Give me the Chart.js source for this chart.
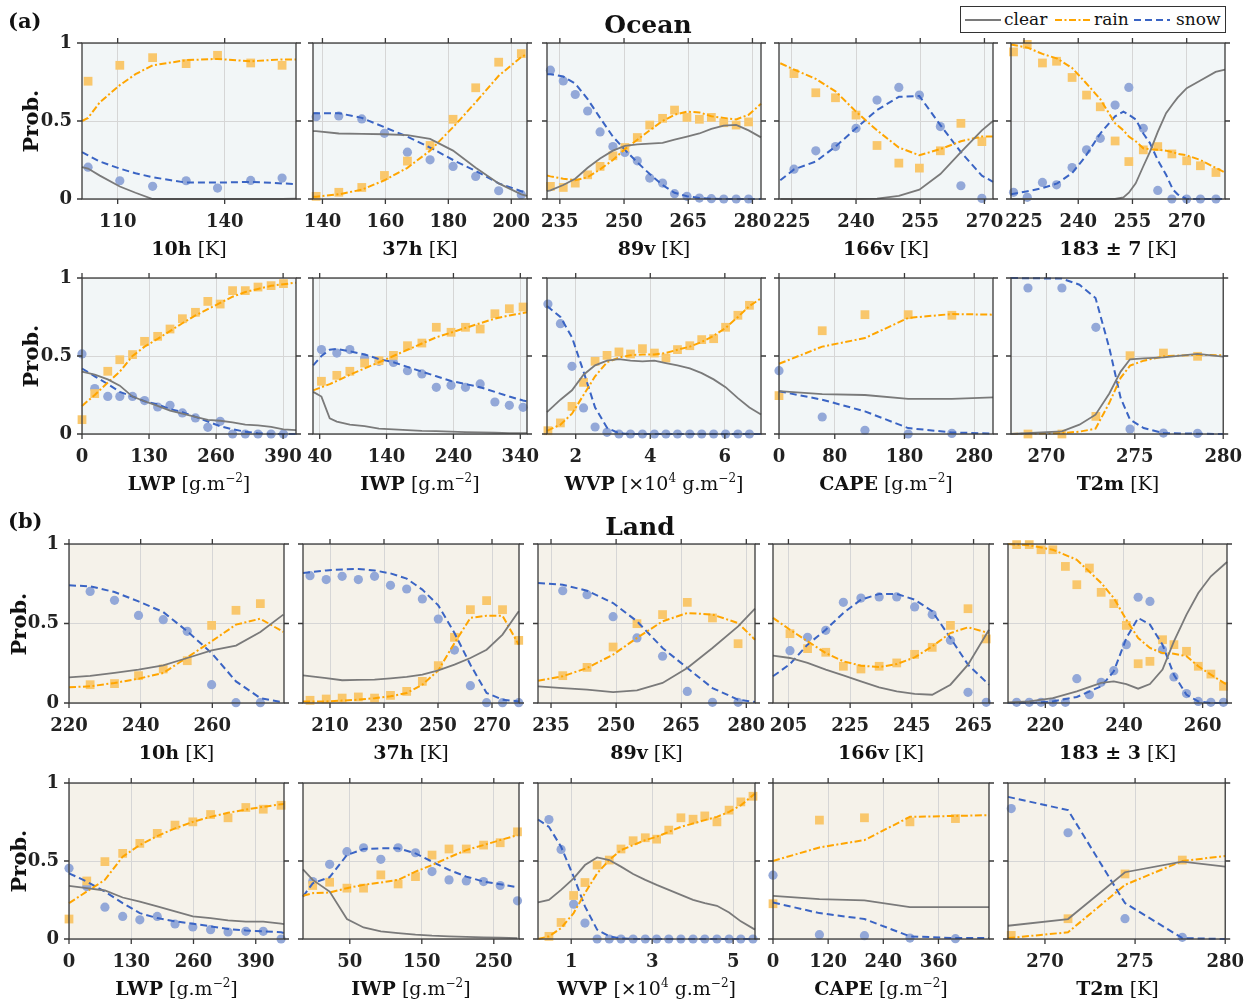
<!DOCTYPE html>
<html>
<head>
<meta charset="utf-8">
<script src="https://cdn.jsdelivr.net/npm/chart.js@4.4.1/dist/chart.umd.min.js"></script>
<style>
  body { margin: 0; width: 1255px; height: 1006px; position: relative; overflow: hidden; background: #fff;
         font-family: "DejaVu Serif", serif; color: #111; }
  canvas { position: absolute; }
  .xt { position: absolute; text-align: center; font-size: 19px; line-height: 26px; height: 26px; white-space: nowrap; }
  .xt sup { font-size: 12px; line-height: 0; vertical-align: 8px; }
  .yl { position: absolute; font-weight: bold; font-size: 21px; white-space: nowrap;
        transform: translate(-50%, -50%) rotate(-90deg); }
  .hd { position: absolute; font-weight: bold; transform: translate(-50%, -50%); white-space: nowrap; }
  .tag { position: absolute; font-weight: bold; font-size: 21px; transform: translateY(-50%); }
  #legend { position: absolute; left: 960px; top: 6px; width: 264px; height: 25px; border: 1.3px solid #333; background: #fff; }
  #legend span { position: absolute; top: 0; line-height: 25px; font-size: 17px; }
</style>
</head>
<body>
<script>
/* ---------- Ocean, row 1 ---------- */
const o10h_lim = [100, 160], o10h_ticks = [110, 140];
const o10h_lx = [100, 101.7, 105, 110.6, 115, 119.8, 125, 129.2, 138, 147.3, 156.1, 160];
const o10h_clear = [0.205, 0.195, 0.15, 0.08, 0.04, 0, 0, 0, 0, 0, 0, 0.003];
const o10h_rain = [0.5, 0.52, 0.62, 0.73, 0.8, 0.857, 0.875, 0.89, 0.898, 0.883, 0.895, 0.895];
const o10h_snow = [0.3, 0.28, 0.24, 0.195, 0.165, 0.14, 0.12, 0.105, 0.105, 0.11, 0.1, 0.095];
const o10h_px = [101.7, 110.6, 119.8, 129.2, 138, 147.3, 156.1];
const o10h_prain = [0.755, 0.857, 0.906, 0.868, 0.921, 0.872, 0.857];
const o10h_psnow = [0.204, 0.117, 0.081, 0.117, 0.07, 0.119, 0.134];

const o37h_lim = [137, 205], o37h_ticks = [140, 160, 180, 200];
const o37h_lx = [137, 138, 145.2, 152.5, 159.7, 167, 174.2, 181.5, 188.7, 196, 203.2, 205];
const o37h_clear = [0.435, 0.435, 0.42, 0.418, 0.415, 0.41, 0.385, 0.31, 0.2, 0.1, 0.03, 0.02];
const o37h_rain = [0.015, 0.015, 0.03, 0.06, 0.12, 0.2, 0.31, 0.46, 0.62, 0.79, 0.91, 0.93];
const o37h_snow = [0.55, 0.55, 0.55, 0.52, 0.46, 0.4, 0.33, 0.25, 0.18, 0.1, 0.05, 0.04];
const o37h_px = [138, 145.2, 152.5, 159.7, 167, 174.2, 181.5, 188.7, 196, 203.2];
const o37h_prain = [0.017, 0.043, 0.074, 0.151, 0.243, 0.343, 0.511, 0.713, 0.877, 0.932];
const o37h_psnow = [0.528, 0.532, 0.513, 0.421, 0.3, 0.251, 0.209, 0.145, 0.053, 0.028];

const o89v_lim = [232, 282], o89v_ticks = [235, 250, 265, 280];
const o89v_lx = [232, 232.8, 235.8, 238.6, 241.5, 244.4, 247.4, 250.2, 253.1, 256, 259, 261.8, 264.7, 267.6, 270.4, 273.3, 276.2, 279.1, 282];
const o89v_clear = [0.05, 0.055, 0.09, 0.13, 0.2, 0.26, 0.31, 0.34, 0.35, 0.355, 0.36, 0.38, 0.4, 0.42, 0.45, 0.47, 0.475, 0.44, 0.395];
const o89v_rain = [0.15, 0.145, 0.13, 0.12, 0.14, 0.19, 0.25, 0.32, 0.38, 0.44, 0.5, 0.54, 0.56, 0.555, 0.53, 0.52, 0.51, 0.54, 0.61];
const o89v_snow = [0.8, 0.8, 0.785, 0.74, 0.64, 0.52, 0.4, 0.315, 0.235, 0.16, 0.09, 0.04, 0.018, 0.007, 0.002, 0, 0, 0, 0];
const o89v_px = [232.8, 235.8, 238.6, 241.5, 244.4, 247.4, 250.2, 253.1, 256, 259, 261.8, 264.7, 267.6, 270.4, 273.3, 276.2, 279.1];
const o89v_prain = [0.081, 0.074, 0.102, 0.155, 0.209, 0.277, 0.33, 0.394, 0.474, 0.517, 0.57, 0.523, 0.511, 0.523, 0.489, 0.474, 0.494];
const o89v_psnow = [0.826, 0.757, 0.67, 0.564, 0.43, 0.336, 0.298, 0.245, 0.134, 0.102, 0.034, 0.017, 0.006, 0.002, 0, 0, 0];

const o166_lim = [222, 272], o166_ticks = [225, 240, 255, 270];
const o166_lx = [222.3, 225.5, 230.6, 235.2, 240, 244.9, 250, 254.8, 259.7, 264.5, 269.4, 272];
const o166_clear = [0, 0, 0, 0, 0, 0.002, 0.02, 0.06, 0.16, 0.3, 0.44, 0.5];
const o166_rain = [0.87, 0.83, 0.77, 0.69, 0.56, 0.44, 0.33, 0.28, 0.32, 0.37, 0.4, 0.4];
const o166_snow = [0.12, 0.19, 0.24, 0.336, 0.453, 0.57, 0.655, 0.66, 0.474, 0.3, 0.15, 0.11];
const o166_px = [225.5, 230.6, 235.2, 240, 244.9, 250, 254.8, 259.7, 264.5, 269.4];
const o166_prain = [0.804, 0.681, 0.649, 0.538, 0.343, 0.23, 0.198, 0.309, 0.485, 0.368];
const o166_psnow = [0.191, 0.309, 0.336, 0.453, 0.634, 0.715, 0.666, 0.464, 0.085, 0.004];

const o183_lim = [221.4, 280.6], o183_ticks = [225, 240, 255, 270];
const o183_lx = [221.4, 226, 230.1, 234.2, 238.3, 241.9, 246.1, 250.2, 252.5, 254, 255.9, 258, 259.8, 262, 264.3, 266.2, 267.5, 270, 273.8, 278, 280.6];
const o183_clear = [0, 0, 0, 0, 0, 0, 0, 0, 0.01, 0.04, 0.1, 0.21, 0.3, 0.43, 0.55, 0.61, 0.65, 0.71, 0.76, 0.815, 0.83];
const o183_rain = [0.99, 0.97, 0.93, 0.9, 0.84, 0.75, 0.64, 0.485, 0.44, 0.4, 0.37, 0.325, 0.32, 0.315, 0.31, 0.3, 0.29, 0.28, 0.25, 0.2, 0.17];
const o183_snow = [0.03, 0.05, 0.07, 0.1, 0.166, 0.27, 0.42, 0.53, 0.56, 0.54, 0.51, 0.42, 0.36, 0.25, 0.155, 0.06, 0.03, 0, 0, 0, 0];
const o183_px = [222.1, 225.9, 230.1, 234, 238.3, 242.3, 246.1, 250.2, 254, 258, 262, 265.9, 270, 273.8, 278.1];
const o183_prain = [0.943, 0.991, 0.872, 0.883, 0.779, 0.666, 0.591, 0.372, 0.24, 0.315, 0.336, 0.289, 0.245, 0.213, 0.17];
const o183_psnow = [0.043, 0.011, 0.106, 0.091, 0.202, 0.315, 0.389, 0.602, 0.715, 0.453, 0.055, 0, 0, 0, 0];

/* ---------- Ocean, row 2 ---------- */
const oLWP_lim = [0, 415], oLWP_ticks = [0, 130, 260, 390];
const oLWP_lx = [0, 24.7, 50, 73.3, 98, 121.3, 146.7, 170.7, 194.7, 220, 244, 268, 292, 316.7, 341.3, 366.7, 390.7, 415];
const oLWP_clear = [0.4, 0.38, 0.35, 0.31, 0.24, 0.21, 0.18, 0.15, 0.13, 0.11, 0.09, 0.085, 0.075, 0.06, 0.055, 0.045, 0.03, 0.025];
const oLWP_rain = [0.18, 0.25, 0.33, 0.4, 0.5, 0.56, 0.61, 0.66, 0.71, 0.76, 0.8, 0.84, 0.88, 0.91, 0.93, 0.95, 0.96, 0.97];
const oLWP_snow = [0.42, 0.37, 0.32, 0.27, 0.24, 0.21, 0.19, 0.16, 0.14, 0.11, 0.08, 0.05, 0.03, 0.015, 0.005, 0, 0, 0];
const oLWP_px = [0, 24.7, 50, 73.3, 98, 121.3, 146.7, 170.7, 194.7, 220, 244, 268, 292, 316.7, 341.3, 366.7, 390.7];
const oLWP_prain = [0.092, 0.259, 0.402, 0.476, 0.509, 0.594, 0.626, 0.673, 0.739, 0.78, 0.85, 0.833, 0.919, 0.919, 0.942, 0.951, 0.964];
const oLWP_psnow = [0.513, 0.291, 0.241, 0.241, 0.241, 0.214, 0.173, 0.184, 0.135, 0.103, 0.043, 0.081, 0, 0, 0, 0, 0];

const oIWP_lim = [30, 350], oIWP_ticks = [40, 140, 240, 340];
const oIWP_lx = [30.3, 42.6, 55, 65.6, 85.1, 107.2, 128.7, 150.3, 171.3, 192.8, 214.4, 236.4, 258, 280, 302, 323.6, 344.1, 350];
const oIWP_clear = [0.27, 0.24, 0.1, 0.08, 0.06, 0.05, 0.035, 0.03, 0.025, 0.02, 0.018, 0.015, 0.012, 0.01, 0.008, 0.006, 0.005, 0.005];
const oIWP_rain = [0.28, 0.3, 0.32, 0.34, 0.38, 0.42, 0.46, 0.5, 0.54, 0.58, 0.62, 0.65, 0.68, 0.71, 0.74, 0.76, 0.775, 0.78];
const oIWP_snow = [0.44, 0.5, 0.54, 0.545, 0.53, 0.51, 0.48, 0.46, 0.43, 0.4, 0.37, 0.34, 0.32, 0.3, 0.27, 0.24, 0.215, 0.21];
const oIWP_px = [42.6, 65.6, 85.1, 107.2, 128.7, 150.3, 171.3, 192.8, 214.4, 236.4, 258, 280, 302, 323.6, 344.1];
const oIWP_prain = [0.338, 0.376, 0.402, 0.455, 0.47, 0.504, 0.566, 0.583, 0.684, 0.652, 0.684, 0.673, 0.771, 0.803, 0.814];
const oIWP_psnow = [0.541, 0.519, 0.541, 0.487, 0.466, 0.459, 0.406, 0.385, 0.299, 0.312, 0.299, 0.321, 0.205, 0.184, 0.171];

const oWVP_lim = [1.23, 6.97], oWVP_ticks = [2, 4, 6];
const oWVP_lx = [1.23, 1.59, 1.9, 2.21, 2.52, 2.84, 3.16, 3.47, 3.79, 4.11, 4.42, 4.73, 5.06, 5.38, 5.7, 6.02, 6.35, 6.66, 6.97];
const oWVP_clear = [0.14, 0.22, 0.28, 0.38, 0.44, 0.47, 0.48, 0.47, 0.465, 0.47, 0.455, 0.44, 0.42, 0.39, 0.35, 0.3, 0.23, 0.17, 0.125];
const oWVP_rain = [0.02, 0.06, 0.13, 0.25, 0.37, 0.46, 0.49, 0.505, 0.51, 0.51, 0.52, 0.54, 0.56, 0.59, 0.63, 0.68, 0.75, 0.82, 0.87];
const oWVP_snow = [0.82, 0.75, 0.62, 0.4, 0.17, 0.04, 0.005, 0, 0, 0, 0, 0, 0, 0, 0, 0, 0, 0, 0];
const oWVP_px = [1.255, 1.59, 1.9, 2.21, 2.52, 2.84, 3.16, 3.47, 3.79, 4.11, 4.42, 4.73, 5.06, 5.38, 5.7, 6.02, 6.35, 6.66];
const oWVP_prain = [0.021, 0.071, 0.177, 0.331, 0.466, 0.504, 0.526, 0.513, 0.547, 0.519, 0.487, 0.541, 0.566, 0.605, 0.611, 0.684, 0.761, 0.825];
const oWVP_psnow = [0.833, 0.707, 0.434, 0.167, 0.045, 0.011, 0, 0, 0, 0, 0, 0, 0, 0, 0, 0, 0, 0];

const oCAPE_lim = [0, 307], oCAPE_ticks = [0, 80, 180, 280];
const oCAPE_lx = [0, 62, 123.3, 185.3, 248, 307];
const oCAPE_clear = [0.275, 0.255, 0.25, 0.225, 0.225, 0.235];
const oCAPE_rain = [0.45, 0.56, 0.615, 0.744, 0.769, 0.765];
const oCAPE_snow = [0.274, 0.22, 0.145, 0.038, 0.01, 0.003];
const oCAPE_px = [0, 62, 123.3, 185.3, 248];
const oCAPE_prain = [0.246, 0.662, 0.765, 0.765, 0.761];
const oCAPE_psnow = [0.406, 0.109, 0.024, 0, 0.004];

const oT2m_lim = [268, 280], oT2m_ticks = [270, 275, 280];
const oT2m_lx = [268, 270.88, 271.87, 272.78, 273.56, 274.2, 274.73, 275.5, 276.62, 278.55, 280];
const oT2m_clear = [0, 0.017, 0.06, 0.124, 0.26, 0.4, 0.479, 0.485, 0.491, 0.513, 0.496];
const oT2m_rain = [0, 0.006, 0.015, 0.034, 0.2, 0.36, 0.438, 0.47, 0.498, 0.508, 0.504];
const oT2m_snow = [1, 0.996, 0.957, 0.872, 0.551, 0.231, 0.092, 0.038, 0.006, 0.002, 0];
const oT2m_px = [268.96, 270.88, 272.8, 274.73, 276.62, 278.55];
const oT2m_prain = [0, 0, 0.113, 0.502, 0.519, 0.498];
const oT2m_psnow = [0.936, 0.936, 0.684, 0.032, 0.006, 0.004];

/* ---------- Land, row 1 ---------- */
const l10h_lim = [220, 280], l10h_ticks = [220, 240, 260];
const l10h_lx = [220, 225.9, 232.7, 239.4, 246.3, 253, 259.8, 266.6, 273.4, 279.8];
const l10h_clear = [0.161, 0.17, 0.189, 0.21, 0.237, 0.283, 0.331, 0.361, 0.447, 0.556];
const l10h_rain = [0.099, 0.105, 0.126, 0.153, 0.189, 0.287, 0.388, 0.493, 0.53, 0.447];
const l10h_snow = [0.74, 0.734, 0.698, 0.639, 0.572, 0.451, 0.314, 0.136, 0.031, 0.004];
const l10h_px = [225.9, 232.7, 239.4, 246.3, 253, 259.8, 266.6, 273.4];
const l10h_prain = [0.115, 0.122, 0.172, 0.214, 0.266, 0.488, 0.583, 0.625];
const l10h_psnow = [0.702, 0.646, 0.551, 0.524, 0.451, 0.115, 0.002, 0.002];

const l37h_lim = [200, 280], l37h_ticks = [210, 230, 250, 270];
const l37h_lx = [200, 208.6, 214.5, 220.5, 226.5, 232.4, 238.4, 244.2, 250.1, 256.1, 262, 268, 273.9, 279.9];
const l37h_clear = [0.174, 0.157, 0.143, 0.145, 0.147, 0.155, 0.164, 0.178, 0.205, 0.241, 0.283, 0.335, 0.43, 0.577];
const l37h_rain = [0.01, 0.01, 0.015, 0.021, 0.03, 0.042, 0.063, 0.115, 0.205, 0.377, 0.535, 0.549, 0.549, 0.367];
const l37h_snow = [0.818, 0.834, 0.84, 0.843, 0.834, 0.815, 0.782, 0.713, 0.614, 0.44, 0.241, 0.063, 0.021, 0.01];
const l37h_px = [202.6, 208.6, 214.5, 220.5, 226.5, 232.4, 238.4, 244.2, 250.1, 256.1, 262, 268, 273.9, 279.9];
const l37h_prain = [0.017, 0.025, 0.031, 0.038, 0.031, 0.048, 0.073, 0.136, 0.235, 0.413, 0.587, 0.644, 0.587, 0.394];
const l37h_psnow = [0.801, 0.776, 0.797, 0.776, 0.797, 0.74, 0.717, 0.654, 0.528, 0.333, 0.109, 0.002, 0.002, 0.002];

const l89v_lim = [232, 282], l89v_ticks = [235, 250, 265, 280];
const l89v_lx = [232, 237.7, 243.3, 249.3, 254.8, 260.7, 266.4, 272.2, 278.1, 282];
const l89v_clear = [0.105, 0.094, 0.084, 0.069, 0.08, 0.126, 0.22, 0.346, 0.482, 0.593];
const l89v_rain = [0.14, 0.168, 0.22, 0.304, 0.409, 0.514, 0.566, 0.556, 0.503, 0.398];
const l89v_snow = [0.755, 0.744, 0.706, 0.629, 0.514, 0.346, 0.22, 0.094, 0.021, 0.006];
const l89v_px = [237.7, 243.3, 249.3, 254.8, 260.7, 266.4, 272.2, 278.1];
const l89v_prain = [0.172, 0.224, 0.352, 0.499, 0.556, 0.633, 0.535, 0.373];
const l89v_psnow = [0.706, 0.681, 0.543, 0.409, 0.294, 0.073, 0.004, 0.004];

const l166_lim = [200, 270], l166_ticks = [205, 225, 245, 265];
const l166_lx = [200, 205.5, 211.2, 217.1, 222.8, 228.5, 234.4, 240.1, 245.9, 251.6, 257.5, 263.2, 270];
const l166_clear = [0.298, 0.283, 0.252, 0.21, 0.174, 0.136, 0.099, 0.073, 0.057, 0.052, 0.115, 0.241, 0.461];
const l166_rain = [0.535, 0.461, 0.388, 0.314, 0.262, 0.235, 0.226, 0.245, 0.287, 0.356, 0.44, 0.476, 0.44];
const l166_snow = [0.168, 0.245, 0.367, 0.461, 0.566, 0.65, 0.686, 0.686, 0.65, 0.577, 0.409, 0.241, 0.115];
const l166_px = [205.5, 211.2, 217.1, 222.8, 228.5, 234.4, 240.1, 245.9, 251.6, 257.5, 263.2, 269.1];
const l166_prain = [0.436, 0.342, 0.319, 0.231, 0.214, 0.231, 0.252, 0.306, 0.35, 0.488, 0.593, 0.403];
const l166_psnow = [0.329, 0.413, 0.457, 0.633, 0.66, 0.667, 0.667, 0.604, 0.556, 0.394, 0.067, 0.004];

const l183_lim = [210.5, 266.2], l183_ticks = [220, 240, 260];
const l183_lx = [210.5, 215.9, 221.9, 228, 234.2, 237.4, 240.6, 243.6, 246.6, 249.8, 252.7, 255.9, 258.9, 262.1, 266.2];
const l183_clear = [0.004, 0.01, 0.031, 0.073, 0.126, 0.136, 0.119, 0.09, 0.119, 0.21, 0.388, 0.556, 0.692, 0.797, 0.887];
const l183_rain = [1, 0.992, 0.964, 0.901, 0.755, 0.66, 0.524, 0.409, 0.346, 0.314, 0.31, 0.294, 0.231, 0.178, 0.115];
const l183_snow = [0, 0, 0.01, 0.038, 0.105, 0.199, 0.409, 0.535, 0.493, 0.367, 0.178, 0.052, 0.01, 0, 0];
const l183_px = [212.7, 215.9, 218.9, 221.9, 225.1, 228, 231.2, 234.2, 237.4, 240.6, 243.6, 246.6, 249.8, 252.7, 255.9, 258.9, 262.1, 265.3];
const l183_prain = [0.996, 0.996, 0.964, 0.964, 0.859, 0.744, 0.849, 0.696, 0.625, 0.488, 0.247, 0.262, 0.398, 0.367, 0.325, 0.231, 0.182, 0.105];
const l183_psnow = [0.004, 0.004, 0.004, 0.004, 0.004, 0.153, 0.052, 0.13, 0.203, 0.367, 0.665, 0.639, 0.335, 0.164, 0.059, 0.01, 0.004, 0.004];

/* ---------- Land, row 2 ---------- */
const lLWP_lim = [0, 449], lLWP_ticks = [0, 130, 260, 390];
const lLWP_lx = [0, 37.1, 75, 112.1, 147.9, 184.3, 221.4, 258.6, 295.7, 332.1, 369.3, 405.7, 442.9, 449];
const lLWP_clear = [0.34, 0.326, 0.311, 0.266, 0.24, 0.209, 0.177, 0.145, 0.134, 0.119, 0.111, 0.111, 0.098, 0.096];
const lLWP_rain = [0.23, 0.304, 0.379, 0.528, 0.602, 0.66, 0.709, 0.751, 0.783, 0.809, 0.83, 0.847, 0.864, 0.866];
const lLWP_snow = [0.421, 0.368, 0.304, 0.23, 0.166, 0.134, 0.113, 0.098, 0.081, 0.064, 0.055, 0.049, 0.043, 0.038];
const lLWP_px = [0, 37.1, 75, 112.1, 147.9, 184.3, 221.4, 258.6, 295.7, 332.1, 369.3, 405.7, 442.9];
const lLWP_prain = [0.128, 0.372, 0.496, 0.549, 0.613, 0.677, 0.73, 0.751, 0.798, 0.777, 0.843, 0.832, 0.857];
const lLWP_psnow = [0.453, 0.336, 0.204, 0.145, 0.123, 0.145, 0.096, 0.077, 0.06, 0.045, 0.049, 0.049, 0];

const lIWP_lim = [-15, 285], lIWP_ticks = [50, 150, 250];
const lIWP_lx = [-15, -1.5, 22, 46, 69.1, 93.1, 117.1, 141.2, 164.2, 187.8, 211.8, 235.8, 258.9, 282.9];
const lIWP_clear = [0.447, 0.379, 0.304, 0.128, 0.074, 0.049, 0.038, 0.028, 0.021, 0.017, 0.013, 0.011, 0.009, 0.006];
const lIWP_rain = [0.277, 0.294, 0.298, 0.326, 0.347, 0.362, 0.379, 0.432, 0.474, 0.523, 0.57, 0.602, 0.634, 0.666];
const lIWP_snow = [0.272, 0.357, 0.396, 0.538, 0.577, 0.581, 0.581, 0.549, 0.496, 0.443, 0.4, 0.368, 0.351, 0.332];
const lIWP_px = [-1.5, 22, 46, 69.1, 93.1, 117.1, 141.2, 164.2, 187.8, 211.8, 235.8, 258.9, 282.9];
const lIWP_prain = [0.343, 0.364, 0.326, 0.326, 0.411, 0.353, 0.4, 0.538, 0.577, 0.577, 0.602, 0.617, 0.687];
const lIWP_psnow = [0.368, 0.479, 0.56, 0.585, 0.511, 0.585, 0.553, 0.432, 0.379, 0.372, 0.368, 0.343, 0.245];

const lWVP_lim = [0.18, 5.54], lWVP_ticks = [1, 3, 5];
const lWVP_lx = [0.18, 0.45, 0.75, 1.06, 1.34, 1.64, 1.94, 2.23, 2.53, 2.83, 3.11, 3.41, 3.71, 4.01, 4.3, 4.6, 4.9, 5.19, 5.54];
const lWVP_clear = [0.234, 0.251, 0.315, 0.389, 0.474, 0.523, 0.506, 0.464, 0.417, 0.379, 0.347, 0.315, 0.283, 0.251, 0.23, 0.213, 0.17, 0.113, 0.06];
const lWVP_rain = [0, 0.017, 0.07, 0.166, 0.294, 0.421, 0.506, 0.57, 0.602, 0.634, 0.655, 0.687, 0.719, 0.74, 0.762, 0.783, 0.815, 0.857, 0.932];
const lWVP_snow = [0.766, 0.719, 0.591, 0.4, 0.209, 0.06, 0.017, 0.004, 0, 0, 0, 0, 0, 0, 0, 0, 0, 0, 0];
const lWVP_px = [0.45, 0.75, 1.06, 1.34, 1.64, 1.94, 2.23, 2.53, 2.83, 3.11, 3.41, 3.71, 4.01, 4.3, 4.6, 4.9, 5.19, 5.49];
const lWVP_prain = [0.017, 0.106, 0.279, 0.362, 0.474, 0.506, 0.577, 0.63, 0.649, 0.64, 0.698, 0.777, 0.768, 0.789, 0.751, 0.826, 0.879, 0.915];
const lWVP_psnow = [0.766, 0.574, 0.223, 0.102, 0, 0, 0, 0, 0, 0, 0, 0, 0, 0, 0, 0, 0, 0];

const lCAPE_lim = [0, 470], lCAPE_ticks = [0, 120, 240, 360];
const lCAPE_lx = [0, 101, 199, 298, 397, 470];
const lCAPE_clear = [0.277, 0.255, 0.247, 0.204, 0.204, 0.204];
const lCAPE_rain = [0.5, 0.587, 0.634, 0.783, 0.789, 0.794];
const lCAPE_snow = [0.234, 0.166, 0.128, 0.017, 0.006, 0.006];
const lCAPE_px = [0, 101, 199, 298, 397];
const lCAPE_prain = [0.226, 0.762, 0.777, 0.751, 0.772];
const lCAPE_psnow = [0.409, 0.028, 0.021, 0.006, 0.002];

const lT2m_lim = [267.95, 280], lT2m_ticks = [270, 275, 280];
const lT2m_lx = [267.95, 271.28, 274.44, 277.62, 280];
const lT2m_clear = [0.085, 0.128, 0.428, 0.496, 0.464];
const lT2m_rain = [0.006, 0.043, 0.347, 0.5, 0.532];
const lT2m_snow = [0.911, 0.826, 0.23, 0.006, 0];
const lT2m_px = [268.13, 271.28, 274.44, 277.62];
const lT2m_prain = [0.023, 0.13, 0.417, 0.506];
const lT2m_psnow = [0.836, 0.681, 0.13, 0.011];

const Y_TICKS = [0, 0.5, 1];

/* ---------- Layout & style ---------- */
const COL_L = [[82, 313, 547, 779, 1011], [69, 303, 538, 773, 1008]];
const COL_W = [[214, 214, 214, 214, 214], [215, 216, 217, 216, 219]];
const ROW_Y = [[43, 199], [278, 434], [544, 703], [783, 939]];
const PAD_L = 70, PAD_R = 30, PAD_T = 26, PAD_B = 42;

const C = {
  ocean: "#F2F6F7", land: "#F5F2EA", grid: "#D6D6D6", ink: "#222",
  clear: "#7A7A7A", rain: "#FFA500", snow: "#3A64C4", sq: "#F9C76C", dot: "#93A8D8",
};
const TICK_FONT = { family: "DejaVu Serif", size: 18, weight: "bold" };
const UNIT = "[g.m<sup>\u22122</sup>]";

function P(row, col, title, lim, ticks, lx, clear, rain, snow, px, prain, psnow) {
  return { row, col, title, lim, ticks, lx, clear, rain, snow, px, prain, psnow };
}

const panels = [
  P(0, 0, "<b>10h</b> [K]", o10h_lim, o10h_ticks, o10h_lx, o10h_clear, o10h_rain, o10h_snow, o10h_px, o10h_prain, o10h_psnow),
  P(0, 1, "<b>37h</b> [K]", o37h_lim, o37h_ticks, o37h_lx, o37h_clear, o37h_rain, o37h_snow, o37h_px, o37h_prain, o37h_psnow),
  P(0, 2, "<b>89v</b> [K]", o89v_lim, o89v_ticks, o89v_lx, o89v_clear, o89v_rain, o89v_snow, o89v_px, o89v_prain, o89v_psnow),
  P(0, 3, "<b>166v</b> [K]", o166_lim, o166_ticks, o166_lx, o166_clear, o166_rain, o166_snow, o166_px, o166_prain, o166_psnow),
  P(0, 4, "<b>183 \u00b1 7</b> [K]", o183_lim, o183_ticks, o183_lx, o183_clear, o183_rain, o183_snow, o183_px, o183_prain, o183_psnow),
  P(1, 0, "<b>LWP</b> " + UNIT, oLWP_lim, oLWP_ticks, oLWP_lx, oLWP_clear, oLWP_rain, oLWP_snow, oLWP_px, oLWP_prain, oLWP_psnow),
  P(1, 1, "<b>IWP</b> " + UNIT, oIWP_lim, oIWP_ticks, oIWP_lx, oIWP_clear, oIWP_rain, oIWP_snow, oIWP_px, oIWP_prain, oIWP_psnow),
  P(1, 2, "<b>WVP</b> [\u00d710<sup>4</sup> g.m<sup>\u22122</sup>]", oWVP_lim, oWVP_ticks, oWVP_lx, oWVP_clear, oWVP_rain, oWVP_snow, oWVP_px, oWVP_prain, oWVP_psnow),
  P(1, 3, "<b>CAPE</b> " + UNIT, oCAPE_lim, oCAPE_ticks, oCAPE_lx, oCAPE_clear, oCAPE_rain, oCAPE_snow, oCAPE_px, oCAPE_prain, oCAPE_psnow),
  P(1, 4, "<b>T2m</b> [K]", oT2m_lim, oT2m_ticks, oT2m_lx, oT2m_clear, oT2m_rain, oT2m_snow, oT2m_px, oT2m_prain, oT2m_psnow),
  P(2, 0, "<b>10h</b> [K]", l10h_lim, l10h_ticks, l10h_lx, l10h_clear, l10h_rain, l10h_snow, l10h_px, l10h_prain, l10h_psnow),
  P(2, 1, "<b>37h</b> [K]", l37h_lim, l37h_ticks, l37h_lx, l37h_clear, l37h_rain, l37h_snow, l37h_px, l37h_prain, l37h_psnow),
  P(2, 2, "<b>89v</b> [K]", l89v_lim, l89v_ticks, l89v_lx, l89v_clear, l89v_rain, l89v_snow, l89v_px, l89v_prain, l89v_psnow),
  P(2, 3, "<b>166v</b> [K]", l166_lim, l166_ticks, l166_lx, l166_clear, l166_rain, l166_snow, l166_px, l166_prain, l166_psnow),
  P(2, 4, "<b>183 \u00b1 3</b> [K]", l183_lim, l183_ticks, l183_lx, l183_clear, l183_rain, l183_snow, l183_px, l183_prain, l183_psnow),
  P(3, 0, "<b>LWP</b> " + UNIT, lLWP_lim, lLWP_ticks, lLWP_lx, lLWP_clear, lLWP_rain, lLWP_snow, lLWP_px, lLWP_prain, lLWP_psnow),
  P(3, 1, "<b>IWP</b> " + UNIT, lIWP_lim, lIWP_ticks, lIWP_lx, lIWP_clear, lIWP_rain, lIWP_snow, lIWP_px, lIWP_prain, lIWP_psnow),
  P(3, 2, "<b>WVP</b> [\u00d710<sup>4</sup> g.m<sup>\u22122</sup>]", lWVP_lim, lWVP_ticks, lWVP_lx, lWVP_clear, lWVP_rain, lWVP_snow, lWVP_px, lWVP_prain, lWVP_psnow),
  P(3, 3, "<b>CAPE</b> " + UNIT, lCAPE_lim, lCAPE_ticks, lCAPE_lx, lCAPE_clear, lCAPE_rain, lCAPE_snow, lCAPE_px, lCAPE_prain, lCAPE_psnow),
  P(3, 4, "<b>T2m</b> [K]", lT2m_lim, lT2m_ticks, lT2m_lx, lT2m_clear, lT2m_rain, lT2m_snow, lT2m_px, lT2m_prain, lT2m_psnow),
];

// background, frame and outward tick marks on all four sides
const frame = {
  id: "frame",
  beforeDraw(chart, _a, o) {
    const a = chart.chartArea, g = chart.ctx;
    g.save();
    g.fillStyle = o.bg;
    g.fillRect(a.left, a.top, a.right - a.left, a.bottom - a.top);
    g.restore();
  },
  afterDatasetsDraw(chart) {
    const a = chart.chartArea, g = chart.ctx, x = chart.scales.x, y = chart.scales.y;
    g.save();
    g.strokeStyle = "#3a3a3a";
    g.lineWidth = 1.3;
    g.strokeRect(a.left, a.top, a.right - a.left, a.bottom - a.top);
    g.beginPath();
    x.ticks.forEach((t) => {
      const p = x.getPixelForValue(t.value);
      g.moveTo(p, a.bottom); g.lineTo(p, a.bottom + 5);
      g.moveTo(p, a.top); g.lineTo(p, a.top - 5);
    });
    y.ticks.forEach((t) => {
      const p = y.getPixelForValue(t.value);
      g.moveTo(a.left, p); g.lineTo(a.left - 5, p);
      g.moveTo(a.right, p); g.lineTo(a.right + 5, p);
    });
    g.stroke();
    g.restore();
  },
};

const pts = (xs, ys) => xs.map((x, i) => ({ x, y: ys[i] }));

function lineDs(xs, ys, color, dash, w) {
  return { data: pts(xs, ys), showLine: true, borderColor: color, borderWidth: w, borderDash: dash,
           pointRadius: 0, tension: 0, fill: false, clip: false };
}
function dotDs(xs, ys, style, r, color) {
  return { data: pts(xs, ys), showLine: false, pointStyle: style, pointRadius: r,
           backgroundColor: color, borderWidth: 0, clip: false };
}

function addDiv(cls, html, css) {
  const d = document.createElement("div");
  d.className = cls;
  d.innerHTML = html;
  Object.assign(d.style, css);
  document.body.appendChild(d);
}

function drawPanel(p) {
  const land = p.row >= 2 ? 1 : 0;
  const L = COL_L[land][p.col], W = COL_W[land][p.col];
  const [T, B] = ROW_Y[p.row];
  const cv = document.createElement("canvas");
  cv.width = W + PAD_L + PAD_R;
  cv.height = B - T + PAD_T + PAD_B;
  cv.style.left = L - PAD_L + "px";
  cv.style.top = T - PAD_T + "px";
  document.body.appendChild(cv);

  new Chart(cv, {
    type: "scatter",
    data: {
      datasets: [
        lineDs(p.lx, p.clear, C.clear, [], 1.8),
        lineDs(p.lx, p.rain, C.rain, [7, 2.5, 2, 2.5], 2),
        lineDs(p.lx, p.snow, C.snow, [7, 4], 2),
        dotDs(p.px, p.prain, "rect", 6.2, C.sq),
        dotDs(p.px, p.psnow, "circle", 4.6, C.dot),
      ],
    },
    options: {
      responsive: false, animation: false, events: [],
      layout: { padding: { left: 0, right: PAD_R, top: PAD_T, bottom: 0 } },
      plugins: { legend: { display: false }, tooltip: { enabled: false }, frame: { bg: land ? C.land : C.ocean } },
      scales: {
        x: {
          type: "linear", min: p.lim[0], max: p.lim[1],
          afterBuildTicks: (s) => { s.ticks = p.ticks.map((v) => ({ value: v })); },
          afterFit: (s) => { s.height = PAD_B; },
          grid: { color: C.grid, lineWidth: 1, drawTicks: false },
          border: { display: false },
          ticks: { autoSkip: false, maxRotation: 0, padding: 13, color: C.ink, font: TICK_FONT, callback: (v) => String(v) },
        },
        y: {
          min: 0, max: 1,
          afterBuildTicks: (s) => { s.ticks = Y_TICKS.map((v) => ({ value: v })); },
          afterFit: (s) => { s.width = PAD_L; },
          grid: { color: C.grid, lineWidth: 1, drawTicks: false },
          border: { display: false },
          ticks: { display: p.col === 0, padding: 10, color: C.ink, font: TICK_FONT, callback: (v) => String(v) },
        },
      },
    },
    plugins: [frame],
  });

  addDiv("xt", p.title, { left: L + "px", width: W + "px", top: B + 36 + "px" });
}

panels.forEach(drawPanel);

// row labels, headings, panel tags
ROW_Y.forEach(([T, B], r) => addDiv("yl", "Prob.", { left: (r < 2 ? 30 : 18) + "px", top: (T + B) / 2 + "px" }));
addDiv("hd", "Ocean", { left: "648px", top: "24px", fontSize: "25px" });
addDiv("hd", "Land", { left: "640px", top: "526px", fontSize: "25px" });
addDiv("tag", "(a)", { left: "8px", top: "20px" });
addDiv("tag", "(b)", { left: "8px", top: "520px" });

// legend
const sw = (color, dash) =>
  `<svg width="36" height="10"><line x1="0" y1="5" x2="36" y2="5" stroke="${color}" stroke-width="2" stroke-dasharray="${dash}"/></svg>`;
addDiv("", `<div id="legend">
  <span style="left:4px;top:0;position:absolute">${sw(C.clear, "")}</span><span style="left:43px">clear</span>
  <span style="left:94px;top:0;position:absolute">${sw(C.rain, "7 2.5 2 2.5")}</span><span style="left:133px">rain</span>
  <span style="left:173px;top:0;position:absolute">${sw(C.snow, "7 4")}</span><span style="left:215px">snow</span>
</div>`, {});
</script>
</body>
</html>
